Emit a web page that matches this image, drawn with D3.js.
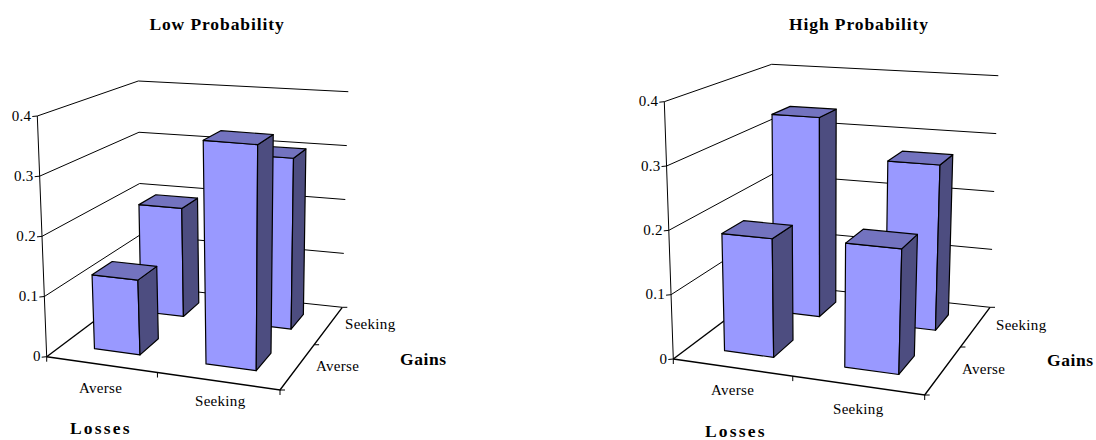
<!DOCTYPE html>
<html><head><meta charset="utf-8">
<script src="https://cdn.jsdelivr.net/npm/d3@7"></script>
<style>html,body{margin:0;padding:0;background:#fff}svg{display:block}text{font-family:"Liberation Serif",serif;fill:#000}</style>
</head><body><svg id="c" width="1096" height="440"></svg>
<script>
const losses = ["Averse", "Seeking"];
const gains = ["Averse", "Seeking"];
const valueTicks = [0, 0.1, 0.2, 0.3, 0.4];
const tickLabels = ["0", "0.1", "0.2", "0.3", "0.4"];
// rows: gains; columns: losses
const lowAverseGains = [0.125, 0.368];
const lowSeekingGains = [0.196, 0.302];
const highAverseGains = [0.185, 0.19];
const highSeekingGains = [0.337, 0.272];

const panels = [
  {title:"Low Probability", titleX:217, rows:[lowAverseGains, lowSeekingGains],
   floor:[[46.7,356.7],[280,390],[342.3,307.3],[141,286]],
   top:[[37.3,116],[285,136],[348.3,91.7],[138.3,81]],
   lossLabels:[[79,393],[195,406]], lossTitle:[70,434],
   gainLabels:[[316,371],[345,329]], gainTitle:[400,365]},
  {title:"High Probability", titleX:859, rows:[highAverseGains, highSeekingGains],
   floor:[[673.3,359],[924.7,395],[990,307.3],[773.3,284]],
   top:[[664.3,101.7],[934,121],[998.3,75.7],[771.7,64.3]],
   lossLabels:[[711,395],[833,414]], lossTitle:[705,437],
   gainLabels:[[962,374],[996,330]], gainTitle:[1047,366]}
];

function homography(q){
  const [[x0,y0],[x1,y1],[x2,y2],[x3,y3]] = q;
  const dx1=x1-x2, dx2=x3-x2, sx=x0-x1+x2-x3, dy1=y1-y2, dy2=y3-y2, sy=y0-y1+y2-y3;
  const den=dx1*dy2-dx2*dy1, g=(sx*dy2-dx2*sy)/den, h=(dx1*sy-sx*dy1)/den;
  const a=x1-x0+g*x1, b=x3-x0+h*x3, d=y1-y0+g*y1, e=y3-y0+h*y3;
  return (u,v)=>{const w=g*u+h*v+1; return [(a*u+b*v+x0)/w,(d*u+e*v+y0)/w];};
}
const svg = d3.select("#c");
const hScale = d3.scaleLinear().domain([0,0.4]).range([0,1]);
const uBand = d3.scaleBand().domain(losses).range([0.005,1.005]).paddingInner(0.58).paddingOuter(0.29);
const vBand = d3.scaleBand().domain(gains).range([0,1]).paddingInner(0.6).paddingOuter(0.3);
const uTick = d3.scalePoint().domain([0,1,2]).range([0,1]);
const line = d3.line();

panels.forEach(p=>{
  const g = svg.append("g");
  const F = homography(p.floor), T = homography(p.top);
  const P = (u,v,val)=>{const a=F(u,v),b=T(u,v),t=hScale(val);return [a[0]+(b[0]-a[0])*t,a[1]+(b[1]-a[1])*t];};
  const seg=(pts,w)=>g.append("path").attr("d",line(pts)).attr("fill","none").attr("stroke","#000").attr("stroke-width",w);

  g.append("text").attr("x",p.titleX).attr("y",30).attr("text-anchor","middle")
    .attr("font-size",17.5).attr("font-weight","bold").attr("letter-spacing",0.9).text(p.title);

  valueTicks.forEach((t,i)=>{
    if(t>0){ seg([P(0,0,t),P(0,1,t),P(1,1,t)],1); }
    const a=P(0,0,t);
    seg([[a[0]-5,a[1]+0.5],a],1);
    g.append("text").attr("x",a[0]-6).attr("y",a[1]+4.5).attr("text-anchor","end")
      .attr("font-size",15).attr("letter-spacing",0.3).text(tickLabels[i]);
  });
  seg([P(0,0,0),P(0,0,0.4)],1);
  seg([P(0,1,0),P(1,1,0)],1);
  seg([P(0,0,0),P(0,1,0)],1.4);
  seg([P(0,0,0),P(1,0,0),P(1,1,0)],1.4);
  uTick.domain().forEach(d=>{const a=P(uTick(d),0,0);seg([a,[a[0],a[1]+5]],1);});
  uTick.domain().forEach(d=>{const a=P(1,uTick(d),0);seg([a,[a[0]+5,a[1]]],1);});

  [1,0].forEach(r=>{
    losses.forEach((l,c)=>{
      const val=p.rows[r][c];
      const u0=uBand(l),u1=u0+uBand.bandwidth(),v0=vBand(gains[r]),v1=v0+vBand.bandwidth();
      const face=(pts,fill)=>g.append("path").attr("d",line(pts)+"Z").attr("fill",fill)
        .attr("stroke","#000").attr("stroke-width",1.2).attr("stroke-linejoin","round");
      face([P(u0,v0,0),P(u1,v0,0),P(u1,v0,val),P(u0,v0,val)],"#9999ff");
      face([P(u1,v0,0),P(u1,v1,0),P(u1,v1,val),P(u1,v0,val)],"#4d4d80");
      face([P(u0,v0,val),P(u1,v0,val),P(u1,v1,val),P(u0,v1,val)],"#7373bf");
    });
  });

  const small=(pos,txt)=>g.append("text").attr("x",pos[0]).attr("y",pos[1])
    .attr("font-size",15).attr("letter-spacing",0.3).text(txt);
  losses.forEach((l,i)=>small(p.lossLabels[i],l));
  gains.forEach((l,i)=>small(p.gainLabels[i],l));
  g.append("text").attr("x",p.lossTitle[0]).attr("y",p.lossTitle[1]).attr("font-size",17.5)
    .attr("font-weight","bold").attr("letter-spacing",2.2).text("Losses");
  g.append("text").attr("x",p.gainTitle[0]).attr("y",p.gainTitle[1]).attr("font-size",17.5)
    .attr("font-weight","bold").attr("letter-spacing",0.6).text("Gains");
});
</script></body></html>
